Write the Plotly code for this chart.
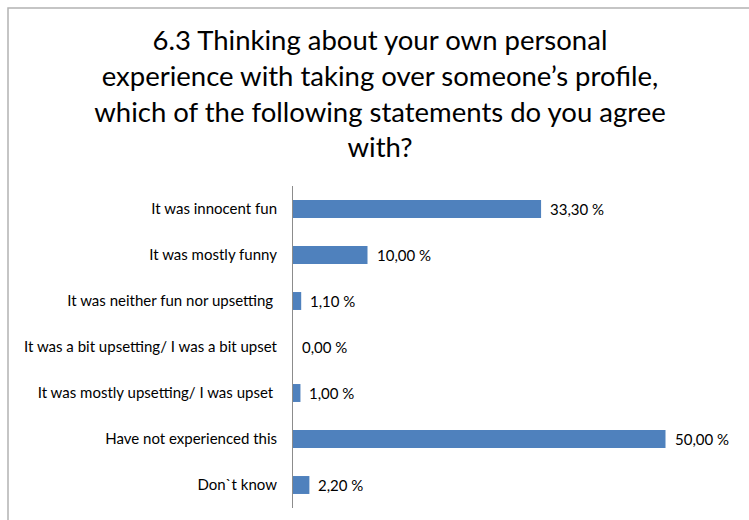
import plotly.graph_objects as go

# Survey answers, top to bottom as they appear on the chart
categories = [
    "It was innocent fun",
    "It was mostly funny",
    "It was neither fun nor upsetting\u00a0",
    "It was a bit upsetting/ I was a bit upset",
    "It was mostly upsetting/ I was upset\u00a0",
    "Have not experienced this",
    "Don`t know",
]
values = [33.3, 10.0, 1.1, 0.0, 1.0, 50.0, 2.2]
value_labels = ["33,30 %", "10,00 %", "1,10 %", "0,00 %", "1,00 %", "50,00 %", "2,20 %"]

title_text = ("6.3 Thinking about your own personal<br>"
              "experience with taking over someone\u2019s profile,<br>"
              "which of the following statements do you agree<br>"
              "with?")

FONT = "Lato"
BAR_COLOR = "#4F81BD"

fig = go.Figure(
    go.Bar(
        x=values,
        y=categories,
        orientation="h",
        marker=dict(color=BAR_COLOR, line=dict(width=0)),
        width=0.39,
        hoverinfo="skip",
    )
)

# value labels placed just right of each bar end
for cat, val, lab in zip(categories, values, value_labels):
    fig.add_annotation(
        x=val, y=cat, text=lab, showarrow=False,
        xanchor="left", yanchor="middle", xshift=7,
        font=dict(family=FONT, size=15, color="#000000"),
    )

# chart frame (its right and bottom edges run off the page)
fig.add_shape(
    type="rect", xref="paper", yref="paper",
    x0=(8 - 293) / 447, x1=1.2, y0=-0.2, y1=1 + (186 - 8) / 322,
    line=dict(color="#B3B3B3", width=1.5), fillcolor="rgba(0,0,0,0)",
    layer="above",
)

fig.update_layout(
    width=749, height=520,
    margin=dict(l=293, r=9, t=186, b=12),
    paper_bgcolor="white", plot_bgcolor="white",
    showlegend=False,
    title=dict(
        text=title_text,
        x=380 / 749, xref="container", xanchor="center",
        y=1 - 50 / 520, yref="container", yanchor="top",
        font=dict(family=FONT, size=27.5, color="#000000"),
    ),
    xaxis=dict(
        range=[0, 60], visible=False, fixedrange=True,
    ),
    yaxis=dict(
        autorange="reversed",
        showline=True, linecolor="#8C8C8C", linewidth=1,
        showgrid=False, zeroline=False,
        ticks="", ticklabelstandoff=12,
        tickfont=dict(family=FONT, size=15, color="#000000"),
        fixedrange=True,
    ),
)

fig.write_html("out.html")
